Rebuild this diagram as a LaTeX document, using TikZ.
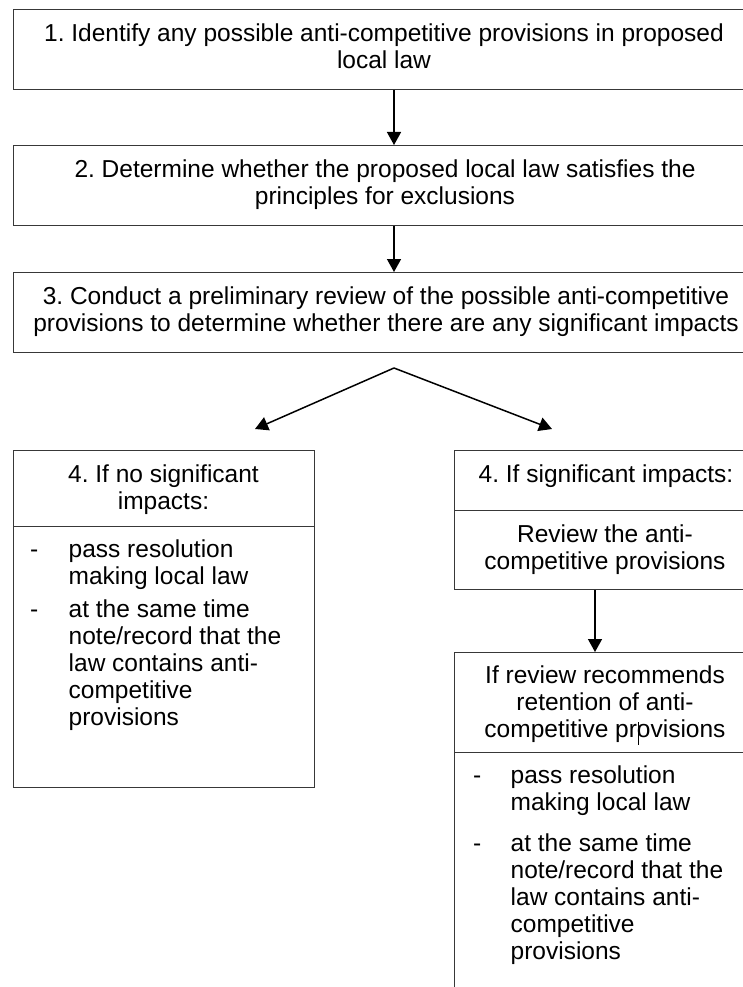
\documentclass[tikz,border=0pt]{standalone}
\usepackage{fontspec}
\setmainfont{Liberation Sans}
\usetikzlibrary{arrows.meta}
\frenchspacing
\newcommand\fs{\fontsize{24.5}{27}\selectfont\frenchspacing}
\newcommand\ctab[1]{\begin{tabular}{@{}c@{}}#1\end{tabular}}
\newcommand\ltab[2]{\begin{tabular}{@{}p{#1}@{}l@{}}#2\end{tabular}}
\begin{document}
\begin{tikzpicture}[x=1pt,y=-1pt,
  box/.style={draw=black!78,line width=1.3pt,rectangle,inner sep=0pt,anchor=north west},
  txt/.style={inner sep=0pt,font=\fs,text=black},
  arr/.style={draw=black,line width=1.5pt,-{Triangle[length=13pt,width=14pt]}}]
\useasboundingbox (0,0) rectangle (743,987);
\clip (0,0) rectangle (743,987);
\fill[white] (0,0) rectangle (743,987);
% boxes
\node[box,minimum width=745pt,minimum height=80pt] (b1) at (13,9) {};
\node[box,minimum width=745pt,minimum height=80pt] (b2) at (13,145) {};
\node[box,minimum width=745pt,minimum height=80pt] (b3) at (13,272) {};
\node[box,minimum width=301pt,minimum height=76pt] (lh) at (13,450) {};
\node[box,minimum width=301pt,minimum height=261pt] (lb) at (13,526) {};
\node[box,minimum width=304pt,minimum height=60pt] (rh) at (454,450) {};
\node[box,minimum width=304pt,minimum height=79pt] (rr) at (454,510) {};
\node[box,minimum width=304pt,minimum height=100pt] (rq) at (454,652) {};
\node[box,minimum width=304pt,minimum height=260pt] (rb) at (454,752) {};
% texts
\node[txt,anchor=north] (t1) at (384,22.6) {\ctab{1. Identify any possible anti-competitive provisions in proposed\\local law}};
\node[txt,anchor=north] (t2) at (385,158.1) {\ctab{2. Determine whether the proposed local law satisfies the\\principles for exclusions}};
\node[txt,anchor=north] (t3) at (386,285.1) {\ctab{3. Conduct a preliminary review of the possible anti-competitive\\provisions to determine whether there are any significant impacts}};
\node[txt,anchor=north] (tlh) at (163.5,463.1) {\ctab{4. If no significant\\impacts:}};
\node[txt,anchor=north] (trh) at (606,463.1) {\ctab{4. If significant impacts:}};
\node[txt,anchor=north] (trr) at (605,523.1) {\ctab{Review the anti-\\competitive provisions}};
\node[txt,anchor=north] (trq) at (605,664.1) {\ctab{If review recommends\\retention of anti-\\competitive provisions}};
\node[txt,anchor=north west] (tlb) at (30,538.1) {\ltab{38.5pt}{-&pass resolution\\&making local law\\[6pt]-&at the same time\\&note/record that the\\&law contains anti-\\&competitive\\&provisions}};
\node[txt,anchor=north west] (trb) at (473,764.1) {\ltab{37.5pt}{-&pass resolution\\&making local law\\[14pt]-&at the same time\\&note/record that the\\&law contains anti-\\&competitive\\&provisions}};
% cursor mark
\draw[black,line width=0.8pt] (638,722) -- (638,745);
% connectors
\coordinate (ax) at (394,0);
\coordinate (bx) at (595,0);
\coordinate (fork) at (394,368);
\coordinate (lt) at (255,429);
\coordinate (rt) at (552,429);
\draw[arr] (b1.south -| ax) -- (b2.north -| ax);
\draw[arr] (b2.south -| ax) -- (b3.north -| ax);
\draw[arr] (fork) -- (lt);
\draw[arr] (fork) -- (rt);
\draw[arr] (rr.south -| bx) -- (rq.north -| bx);
\end{tikzpicture}
\end{document}
